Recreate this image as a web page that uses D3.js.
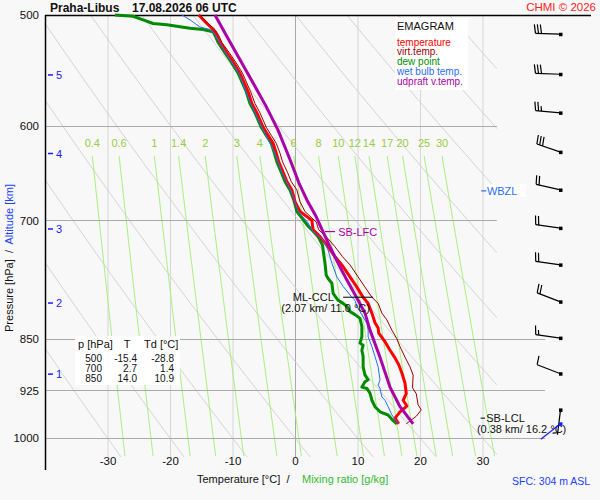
<!DOCTYPE html>
<html>
<head>
<meta charset="utf-8">
<script src="https://cdn.jsdelivr.net/npm/d3@7"></script>
<style>
  body { margin: 0; background: #fff; }
  svg { display: block; font-family: "Liberation Sans", Arial, sans-serif; }
  text { white-space: pre; }
</style>
</head>
<body>
<svg id="chart" width="600" height="500"></svg>
<script>
// temperature profile (red)
const tempP = [977, 968, 958, 949, 940, 930, 914, 899, 887, 877, 866, 854, 842, 835, 828, 815, 802, 794, 781, 768, 753, 743, 731, 719, 711, 700, 690, 679, 666, 657, 647, 636, 627, 617, 609, 601, 587, 578, 567, 550, 540, 532, 523, 517, 512, 507, 500];
const tempT = [16.6, 16.0, 16.8, 17.9, 17.3, 17.8, 17.6, 17.1, 16.6, 16.0, 15.2, 14.4, 13.4, 13.3, 12.8, 12.3, 11.7, 10.9, 9.9, 8.8, 7.5, 6.4, 5.3, 4.0, 2.9, 2.7, 0.8, 0.0, -0.5, -1.3, -1.9, -2.6, -3.0, -3.5, -4.3, -5.1, -6.1, -6.9, -7.5, -8.8, -9.9, -10.9, -12.0, -12.5, -13.1, -14.1, -15.4];

// virtual temperature (dark red)
const virtP = [977, 965, 955, 947, 930, 921, 902, 890, 876, 861, 850, 838, 824, 815, 802, 794, 781, 768, 753, 743, 731, 719, 711, 702, 690, 679, 666, 657, 647, 636, 627, 617, 609, 601, 587, 578, 567, 550, 540, 532, 523, 517, 512, 507, 500];
const virtT = [17.8, 19.4, 20.2, 19.7, 19.4, 18.8, 18.9, 18.4, 17.6, 16.8, 16.3, 15.5, 14.7, 13.9, 13.3, 12.3, 11.2, 10.1, 8.8, 7.6, 6.4, 5.0, 3.8, 3.4, 1.6, 0.8, 0.3, -0.6, -1.2, -2.0, -2.4, -3.0, -3.8, -4.6, -5.6, -6.4, -7.1, -8.4, -9.5, -10.5, -11.7, -12.2, -12.8, -13.9, -15.2];

// dew point (green)
const dewP = [977, 972, 963, 958, 950, 940, 929, 922, 920, 912, 909, 902, 890, 875, 866, 859, 856, 847, 833, 822, 817, 813, 806, 802, 798, 789, 776, 770, 766, 751, 735, 729, 719, 711, 705, 700, 690, 677, 666, 657, 647, 636, 627, 617, 609, 601, 587, 578, 567, 550, 540, 532, 523, 517, 514, 512, 511, 508, 507, 504, 501, 500];
const dewT = [16.3, 15.7, 14.9, 13.6, 12.8, 12.3, 12.0, 11.5, 10.7, 11.2, 11.7, 11.2, 10.9, 10.9, 10.7, 10.9, 10.4, 10.7, 10.7, 10.4, 9.6, 8.8, 8.3, 7.7, 6.9, 6.1, 5.9, 5.3, 5.0, 4.8, 4.5, 4.4, 3.7, 2.7, 1.9, 1.4, 0.3, -0.2, -0.8, -1.6, -2.2, -2.9, -3.3, -3.8, -4.6, -5.4, -6.4, -7.2, -7.8, -9.1, -10.2, -11.2, -12.3, -12.8, -13.1, -14.7, -16.8, -20.5, -22.7, -24.3, -25.9, -28.8];

// wet bulb temperature (blue)
const wetP = [976, 963, 950, 940, 935, 922, 917, 909, 890, 875, 861, 854, 847, 838, 829, 820, 813, 806, 798, 794, 780, 768, 751, 735, 723, 713, 702, 690, 677, 666, 647, 627, 601, 578, 550, 532, 517, 514, 512, 510, 504, 500];
const wetT = [16.5, 15.5, 14.9, 14.4, 13.9, 13.6, 13.3, 13.6, 13.3, 12.8, 12.3, 12.0, 11.7, 11.7, 11.5, 10.9, 10.4, 9.9, 9.6, 9.1, 7.7, 6.7, 5.9, 5.3, 4.5, 2.9, 2.0, 0.5, -0.1, -0.7, -2.1, -3.2, -5.3, -7.1, -9.0, -11.1, -12.7, -13.1, -13.6, -15.2, -16.8, -18.1];

// updraft virtual temperature (purple)
const parcelP = [977, 950, 920, 876, 838, 815, 795, 772, 751, 731, 715, 696, 677, 658, 637, 624, 604, 581, 559, 538, 518, 500];
const parcelT = [18.9, 16.8, 15.2, 13.6, 12.0, 11.2, 9.9, 8.3, 6.9, 5.6, 4.6, 3.4, 1.9, 0.6, -0.6, -1.4, -2.7, -4.6, -6.7, -8.8, -10.9, -12.8];

// axes and grid values
const pressureTicks = [500, 600, 700, 850, 925, 1000];
const tempTicks = [-30, -20, -10, 0, 10, 20, 30];
const mixingRatios = [0.4, 0.6, 1, 1.4, 2, 3, 4, 6, 8, 10, 12, 14, 17, 20, 25, 30];
const thetaLines = [-30, -20, -10, 0, 10, 20, 30, 40, 50, 60, 70, 80, 90, 100];
const altKm = [1, 2, 3, 4, 5];
const altP = [900.6, 801.6, 710, 627.4, 551.6];

// wind barbs (every 0.5 km)
const barbP = [955, 900, 849, 800, 753, 709, 666, 626, 587, 551, 516];
const barbDir = [187, 291, 278, 291, 278, 278, 283, 289, 275, 272, 272];
const barbSpd = [5, 10, 15, 20, 20, 20, 20, 30, 25, 30, 30];
const sfcWindP = 977, sfcWindDir = 232, sfcWindSpd = 0;

// table
const tableP = [500, 700, 850];
const tableT = [-15.4, 2.7, 14.0];
const tableTd = [-28.8, 1.4, 10.9];

const legendItems = ['temperature', 'virt.temp.', 'dew point', 'wet bulb temp.', 'udpraft v.temp.'];
const legendColors = ['#ff0000', '#a00000', '#009000', '#2a6cff', '#aa00aa'];

const svg = d3.select('#chart');
const x = d3.scaleLinear().domain([-40, 40]).range([45, 545]);
const y = d3.scaleLog().domain([500, 1000]).range([15, 438]);
const pBottom = 1032;

svg.append('rect').attr('width', 600).attr('height', 500).attr('fill', '#f8f8f8');

svg.append('clipPath').attr('id', 'grid-clip')
    .append('rect')
    .attr('x', x(-40)).attr('y', y(500))
    .attr('width', x(32.3) - x(-40)).attr('height', y(pBottom) - y(500));

const grid = svg.append('g');

// isotherms
grid.selectAll('.iso')
    .data(tempTicks)
    .enter().append('line')
    .attr('x1', d => x(d) + 0.5).attr('x2', d => x(d) + 0.5)
    .attr('y1', y(500)).attr('y2', y(pBottom))
    .attr('stroke', d => d === 0 ? '#a8a8a8' : '#d6d6d6')
    .attr('stroke-width', 1);

// dry adiabats
const pSteps = d3.range(500, pBottom + 1, 4);
const adiabat = d3.line()
    .x(d => x(d[0]))
    .y(d => y(d[1]));
grid.append('g').attr('clip-path', 'url(#grid-clip)')
    .selectAll('path')
    .data(thetaLines)
    .enter().append('path')
    .attr('d', th => adiabat(pSteps.map(p => [(th + 273.15) * Math.pow(p / 1000, 0.286) - 273.15, p])))
    .attr('fill', 'none')
    .attr('stroke', '#d2d2d2')
    .attr('stroke-width', 1);

// mixing ratio lines
function dewFromMix(w, p) {
    const e = w * p / (622 + w);
    const l = Math.log(e / 6.112);
    return 243.5 * l / (17.67 - l);
}
const mixTop = 630;
const mixSteps = d3.range(mixTop, pBottom + 1, 4);
grid.append('g')
    .selectAll('path')
    .data(mixingRatios)
    .enter().append('path')
    .attr('d', w => adiabat(mixSteps.map(p => [dewFromMix(w, p), p])))
    .attr('fill', 'none')
    .attr('stroke', '#a6f07a')
    .attr('stroke-width', 1);

grid.append('g')
    .selectAll('text')
    .data(mixingRatios)
    .enter().append('text')
    .attr('x', w => x(dewFromMix(w, mixTop)))
    .attr('y', 147)
    .attr('text-anchor', 'middle')
    .attr('font-size', 11)
    .attr('fill', '#99cc44')
    .text(w => w);

// isobars
grid.selectAll('.isobar')
    .data(pressureTicks.slice(1))
    .enter().append('line')
    .attr('x1', x(-40)).attr('x2', d => d < 800 ? x(32.3) : x(40))
    .attr('y1', d => Math.round(y(d)) + 0.5).attr('y2', d => Math.round(y(d)) + 0.5)
    .attr('stroke', '#aaaaaa')
    .attr('stroke-width', 1);

// top border and left axis line
svg.append('line')
    .attr('x1', x(-40)).attr('x2', 591).attr('y1', 15.5).attr('y2', 15.5)
    .attr('stroke', '#000').attr('stroke-width', 1.5);
svg.append('line')
    .attr('x1', x(-40) + 0.5).attr('x2', x(-40) + 0.5).attr('y1', 15).attr('y2', 470)
    .attr('stroke', '#000').attr('stroke-width', 1.5);

// pressure axis
const pAxis = svg.append('g')
    .attr('transform', `translate(${x(-40)},0)`)
    .call(d3.axisLeft(y).tickValues(pressureTicks).tickSize(0).tickPadding(6).tickFormat(d => d));
pAxis.select('.domain').remove();
pAxis.selectAll('text').attr('font-size', 11.5).attr('fill', '#111')
    .attr('font-family', '"Liberation Sans", Arial, sans-serif');

// temperature axis
const tAxis = svg.append('g')
    .attr('transform', 'translate(0,457)')
    .call(d3.axisBottom(x).tickValues(tempTicks).tickSize(0).tickPadding(0).tickFormat(d => String(d)));
tAxis.select('.domain').remove();
tAxis.selectAll('text').attr('font-size', 11.5).attr('fill', '#111')
    .attr('font-family', '"Liberation Sans", Arial, sans-serif');

// altitude labels
const alt = svg.append('g');
alt.selectAll('line')
    .data(altKm)
    .enter().append('line')
    .attr('x1', 48).attr('x2', 53)
    .attr('y1', (d, i) => y(altP[i])).attr('y2', (d, i) => y(altP[i]))
    .attr('stroke', '#1a1aff').attr('stroke-width', 1.5);
alt.selectAll('text')
    .data(altKm)
    .enter().append('text')
    .attr('x', 56)
    .attr('y', (d, i) => y(altP[i]) + 4)
    .attr('font-size', 11)
    .attr('fill', '#1a1aff')
    .text(d => d);

// profiles
const profileLine = d3.line()
    .x(d => x(d[1]))
    .y(d => y(d[0]));

function drawProfile(ps, ts, color, width) {
    svg.append('path')
        .attr('d', profileLine(d3.zip(ps, ts)))
        .attr('fill', 'none')
        .attr('stroke', color)
        .attr('stroke-width', width)
        .attr('stroke-linejoin', 'round');
}
drawProfile(dewP, dewT, '#008c00', 3);
drawProfile(tempP, tempT, '#ff0000', 3);
drawProfile(wetP, wetT, '#1f6fff', 1);
drawProfile(virtP, virtT, '#990000', 1);
drawProfile(parcelP, parcelT, '#aa00aa', 3);

// annotations
const lfcP = 713;
svg.append('line')
    .attr('x1', x(4.8)).attr('x2', x(6.4)).attr('y1', y(lfcP)).attr('y2', y(lfcP))
    .attr('stroke', '#aa00aa').attr('stroke-width', 1.2);
svg.append('text')
    .attr('x', x(6.9)).attr('y', y(lfcP) + 4)
    .attr('font-size', 11).attr('fill', '#aa00aa')
    .text('SB-LFC');

const cclP = 794;
svg.append('line')
    .attr('x1', x(7.7)).attr('x2', x(12.5)).attr('y1', y(cclP)).attr('y2', y(cclP))
    .attr('stroke', '#000').attr('stroke-width', 1);
svg.append('text')
    .attr('x', x(6.2)).attr('y', y(cclP) + 4)
    .attr('text-anchor', 'end')
    .attr('font-size', 11).attr('fill', '#111')
    .text('ML-CCL');
svg.append('text')
    .attr('x', x(4.9)).attr('y', y(cclP) + 15)
    .attr('text-anchor', 'middle')
    .attr('font-size', 11).attr('fill', '#111')
    .text('(2.07 km/ 11.0 °C)');

const lclP = 968;
svg.append('line')
    .attr('x1', x(29.7)).attr('x2', x(30.4)).attr('y1', y(lclP)).attr('y2', y(lclP))
    .attr('stroke', '#000').attr('stroke-width', 1);
svg.append('text')
    .attr('x', x(30.6)).attr('y', y(lclP) + 4)
    .attr('font-size', 11).attr('fill', '#111')
    .text('SB-LCL');
svg.append('text')
    .attr('x', x(29.1)).attr('y', y(lclP) + 15)
    .attr('font-size', 11).attr('fill', '#111')
    .text('(0.38 km/ 16.2 °C)');

const wbzlP = 667;
svg.append('rect')
    .attr('x', x(30.8)).attr('y', y(wbzlP) - 7)
    .attr('width', 38).attr('height', 13)
    .attr('fill', '#fff');
svg.append('line')
    .attr('x1', x(29.8)).attr('x2', x(30.6)).attr('y1', y(wbzlP)).attr('y2', y(wbzlP))
    .attr('stroke', '#2a6cff').attr('stroke-width', 1.2);
svg.append('text')
    .attr('x', x(30.7)).attr('y', y(wbzlP) + 4)
    .attr('font-size', 11).attr('fill', '#2a6cff')
    .text('WBZL');

// wind barbs
const stationX = 560.5;
const staffLen = 25;
function drawBarb(p, dir, spd, color) {
    const g = svg.append('g');
    const cy = y(p);
    const a = dir * Math.PI / 180;
    const ux = Math.sin(a), uy = -Math.cos(a);
    const fx = -uy, fy = ux;
    const tipX = stationX + ux * staffLen, tipY = cy + uy * staffLen;
    g.append('line')
        .attr('x1', stationX).attr('y1', cy).attr('x2', tipX).attr('y2', tipY)
        .attr('stroke', color).attr('stroke-width', 1.2);
    let rest = Math.round(spd / 5) * 5;
    let pos = 0;
    while (rest >= 10) {
        const bx = tipX - ux * pos, by = tipY - uy * pos;
        g.append('line')
            .attr('x1', bx).attr('y1', by)
            .attr('x2', bx + fx * 9 + ux * 1.5).attr('y2', by + fy * 9 + uy * 1.5)
            .attr('stroke', color).attr('stroke-width', 1.2);
        rest -= 10;
        pos += 3;
    }
    if (rest >= 5) {
        if (pos === 0) pos = 2;
        const bx = tipX - ux * pos, by = tipY - uy * pos;
        g.append('line')
            .attr('x1', bx).attr('y1', by)
            .attr('x2', bx + fx * 5 + ux * 1).attr('y2', by + fy * 5 + uy * 1)
            .attr('stroke', color).attr('stroke-width', 1.2);
    }
    g.append('rect')
        .attr('x', stationX - 1.5).attr('y', cy - 1.5)
        .attr('width', 3.5).attr('height', 3.5)
        .attr('fill', color);
}
barbP.forEach((p, i) => drawBarb(p, barbDir[i], barbSpd[i], '#000'));
drawBarb(sfcWindP, sfcWindDir, sfcWindSpd, '#1a1aff');

// legend
const legend = svg.append('g');
legend.append('rect')
    .attr('x', 395).attr('y', 18).attr('width', 73).attr('height', 72)
    .attr('fill', '#fff');
legend.append('text')
    .attr('x', 397).attr('y', 30)
    .attr('font-size', 11).attr('fill', '#111')
    .text('EMAGRAM');
legend.selectAll('.item')
    .data(legendItems)
    .enter().append('text')
    .attr('x', 397)
    .attr('y', (d, i) => 45.5 + i * 9.9)
    .attr('font-size', 10)
    .attr('fill', (d, i) => legendColors[i])
    .text(d => d);

// table
const table = svg.append('g').attr('font-size', 10).attr('fill', '#111');
table.append('rect')
    .attr('x', 75).attr('y', 336).attr('width', 105).attr('height', 49)
    .attr('fill', '#fff');
table.append('text').attr('x', 78).attr('y', 347.5).attr('font-size', 11).text('p [hPa]');
table.append('text').attr('x', 127).attr('y', 347.5).attr('font-size', 11).attr('text-anchor', 'middle').text('T');
table.append('text').attr('x', 144).attr('y', 347.5).attr('font-size', 11).text('Td [°C]');
tableP.forEach((p, i) => {
    const ty = 362 + i * 10.2;
    table.append('text').attr('x', 102).attr('y', ty).attr('text-anchor', 'end').text(p);
    table.append('text').attr('x', 137).attr('y', ty).attr('text-anchor', 'end').text(tableT[i].toFixed(1));
    table.append('text').attr('x', 174).attr('y', ty).attr('text-anchor', 'end').text(tableTd[i].toFixed(1));
});

// titles
svg.append('text').attr('x', 50).attr('y', 12).attr('font-size', 12).attr('font-weight', 'bold').attr('fill', '#111').text('Praha-Libus');
svg.append('text').attr('x', 132).attr('y', 12).attr('font-size', 12).attr('font-weight', 'bold').attr('fill', '#111').text('17.08.2026 06 UTC');
svg.append('text').attr('x', 596).attr('y', 11).attr('text-anchor', 'end').attr('font-size', 11.5).attr('fill', '#ff2020').text('CHMI © 2026');

svg.append('text').attr('x', 197).attr('y', 483).attr('font-size', 11).attr('fill', '#111').text('Temperature [°C]  /');
svg.append('text').attr('x', 302).attr('y', 483).attr('font-size', 11).attr('fill', '#33bb33').text('Mixing ratio [g/kg]');
svg.append('text').attr('x', 512).attr('y', 485).attr('font-size', 10.5).attr('fill', '#2040ff').text('SFC: 304 m ASL');

const yTitle = svg.append('text')
    .attr('transform', 'translate(12.5,258) rotate(-90)')
    .attr('text-anchor', 'middle')
    .attr('font-size', 11);
yTitle.append('tspan').attr('fill', '#111').text('Pressure [hPa]  /  ');
yTitle.append('tspan').attr('fill', '#2040ff').text('Altitude [km]');
</script>
</body>
</html>
